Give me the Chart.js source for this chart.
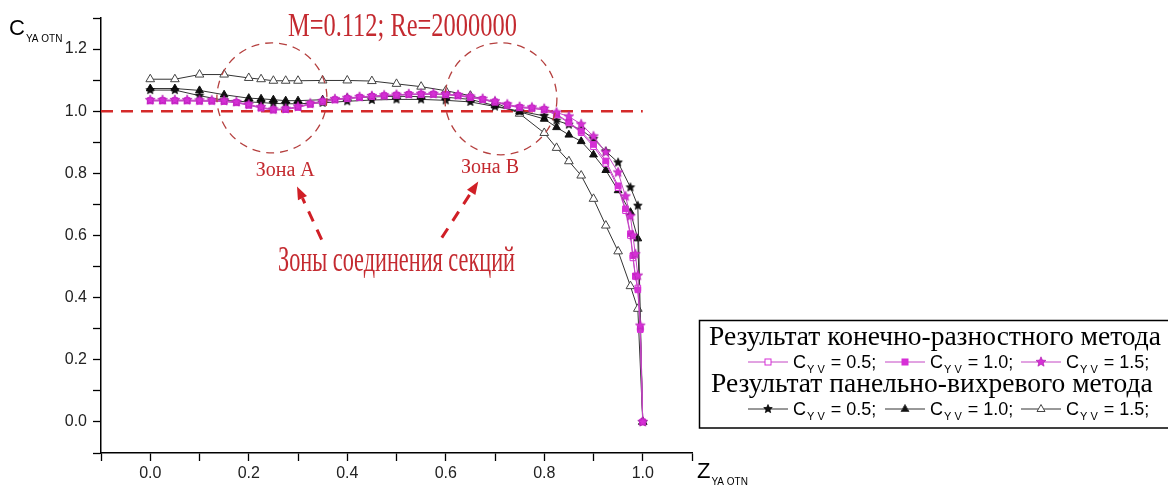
<!DOCTYPE html>
<html><head><meta charset="utf-8">
<script src="https://cdn.jsdelivr.net/npm/chart.js@4.4.0/dist/chart.umd.min.js"></script>
<style>html,body{margin:0;padding:0;background:#fff;overflow:hidden}#wrap{position:relative;width:1168px;height:495px}</style>
</head><body><div id="wrap"><canvas id="c" width="1168" height="495"></canvas></div>
<script>
// ---------- DATA ----------
const fdmZ = [0, 0.025, 0.05, 0.075, 0.1, 0.125, 0.15, 0.175, 0.2, 0.225, 0.25, 0.275, 0.3, 0.325, 0.35, 0.375, 0.4, 0.425, 0.45, 0.475, 0.5, 0.525, 0.55, 0.575, 0.6, 0.625, 0.65, 0.675, 0.7, 0.725, 0.75, 0.775, 0.8, 0.825, 0.85, 0.875, 0.9, 0.925, 0.95, 0.965, 0.975, 0.98, 0.985, 0.99, 0.995, 1.0];
const fdmCyv05 = [1.033,1.033,1.033,1.033,1.032,1.032,1.031,1.027,1.019,1.010,1.004,1.005,1.012,1.022,1.030,1.036,1.040,1.044,1.047,1.049,1.051,1.053,1.054,1.054,1.053,1.049,1.044,1.037,1.029,1.019,1.011,1.009,1.004,0.988,0.962,0.931,0.886,0.832,0.754,0.680,0.600,0.528,0.468,0.431,0.297,0.0];
const fdmCyv10 = [1.034,1.034,1.034,1.034,1.033,1.033,1.032,1.028,1.020,1.011,1.004,1.006,1.013,1.023,1.031,1.037,1.041,1.045,1.048,1.050,1.052,1.054,1.055,1.055,1.054,1.050,1.045,1.038,1.030,1.020,1.012,1.010,1.005,0.990,0.965,0.935,0.893,0.840,0.760,0.686,0.606,0.535,0.470,0.425,0.300,0.0];
const fdmCyv15 = [1.036,1.036,1.036,1.036,1.035,1.035,1.034,1.030,1.022,1.013,1.006,1.008,1.015,1.025,1.033,1.039,1.043,1.046,1.049,1.051,1.053,1.055,1.056,1.056,1.055,1.052,1.047,1.040,1.032,1.022,1.014,1.012,1.008,0.996,0.983,0.958,0.919,0.868,0.803,0.726,0.662,0.600,0.540,0.471,0.310,0.0];

const pvZ = [0, 0.05, 0.1, 0.15, 0.2, 0.225, 0.25, 0.275, 0.3, 0.35, 0.4, 0.45, 0.5, 0.55, 0.6, 0.65, 0.7, 0.75, 0.8, 0.825, 0.85, 0.875, 0.9, 0.925, 0.95, 0.975, 0.99, 1.0];
const pvCyv05 = [1.068,1.068,1.050,1.035,1.030,1.028,1.025,1.024,1.024,1.027,1.032,1.036,1.038,1.038,1.035,1.030,1.015,1.000,0.985,0.970,0.957,0.940,0.911,0.871,0.835,0.755,0.696,0.0];
const pvCyv10 = [1.073,1.073,1.067,1.053,1.042,1.040,1.037,1.034,1.034,1.037,1.042,1.046,1.048,1.047,1.045,1.038,1.018,0.998,0.975,0.948,0.924,0.903,0.860,0.810,0.745,0.675,0.590,0.0];
const pvCyv15 = [1.103,1.103,1.118,1.118,1.107,1.103,1.098,1.098,1.098,1.099,1.099,1.097,1.088,1.079,1.066,1.050,1.028,0.992,0.930,0.882,0.839,0.793,0.718,0.632,0.549,0.437,0.364,0.0];

const refZ = [-0.1, 1.0];
const refC = [1.0, 1.0];

const xTickLabels = ['0.0','0.2','0.4','0.6','0.8','1.0'];
const yTickLabels = ['0.0','0.2','0.4','0.6','0.8','1.0','1.2'];

const titleText = 'M=0.112; Re=2000000';
const zoneLabels = ['Зона А', 'Зона В'];
const jointText = 'Зоны соединения секций';
const legendHeaders = ['Результат конечно-разностного метода', 'Результат панельно-вихревого метода'];
const legendValues = ['0.5', '1.0', '1.5'];

// ---------- STYLE ----------
const MAG = '#d62fd6', MAGLINE = '#c446c4', RED = '#d42a2a', DRED = '#c42a30';
const SANS = '"Liberation Sans", Arial, sans-serif';
const SERIF = '"Liberation Serif", "Times New Roman", serif';

function starCanvas(r, fill, stroke) {
  const s = Math.ceil(r * 2 + 3);
  const c = document.createElement('canvas'); c.width = s; c.height = s;
  const g = c.getContext('2d');
  g.beginPath();
  for (let i = 0; i < 10; i++) {
    const a = -Math.PI / 2 + i * Math.PI / 5;
    const rr = i % 2 ? r * 0.45 : r;
    g.lineTo(s / 2 + rr * Math.cos(a), s / 2 + rr * Math.sin(a));
  }
  g.closePath(); g.fillStyle = fill; g.fill();
  if (stroke) { g.strokeStyle = stroke; g.lineWidth = 0.7; g.stroke(); }
  return c;
}
const magStar = starCanvas(5.2, MAG, '#b020b0');
const blkStar = starCanvas(4.5, '#111', '#000');

const pts = (xs, ys) => xs.map((v, i) => ({ x: v, y: ys[i] }));
const base = { showLine: true, borderWidth: 1, tension: 0 };

const datasets = [
  { ...base, label: 'fdm15', data: pts(fdmZ, fdmCyv15), borderColor: MAGLINE, pointStyle: magStar, pointRadius: 5 },
  { ...base, label: 'fdm10', data: pts(fdmZ, fdmCyv10), borderColor: MAGLINE, pointStyle: 'rect', pointRadius: 4, backgroundColor: MAG, pointBorderColor: MAG, pointBorderWidth: 1 },
  { ...base, label: 'fdm05', data: pts(fdmZ, fdmCyv05), borderColor: MAGLINE, pointStyle: 'rect', pointRadius: 4, backgroundColor: '#fff', pointBorderColor: MAG, pointBorderWidth: 1 },
  { ...base, label: 'pv05', data: pts(pvZ, pvCyv05), borderColor: '#333', pointStyle: blkStar, pointRadius: 5 },
  { ...base, label: 'pv10', data: pts(pvZ, pvCyv10), borderColor: '#333', pointStyle: 'triangle', pointRadius: 4.5, backgroundColor: '#111', pointBorderColor: '#111', pointBorderWidth: 1 },
  { ...base, label: 'pv15', data: pts(pvZ, pvCyv15), borderColor: '#333', pointStyle: 'triangle', pointRadius: 5, backgroundColor: '#fff', pointBorderColor: '#444', pointBorderWidth: 1 },
  { ...base, label: 'ref', data: pts(refZ, refC), borderColor: RED, borderWidth: 2.5, borderDash: [12, 8], pointRadius: 0 }
];

function fmt(v) { if (Math.abs(v) < 1e-9) v = 0; return v.toFixed(1); }

function fitText(ctx, text, cx, by, font, targetW) {
  ctx.font = font;
  const w = ctx.measureText(text).width;
  const s = targetW ? targetW / w : 1;
  ctx.save(); ctx.translate(cx, by); ctx.scale(s, 1);
  ctx.textAlign = 'center'; ctx.textBaseline = 'alphabetic';
  ctx.fillText(text, 0, 0); ctx.restore();
}

function arrow(ctx, x0, y0, x1, y1) {
  const ang = Math.atan2(y1 - y0, x1 - x0);
  const head = 13, hw = 5;
  const bx = x1 - head * Math.cos(ang), by = y1 - head * Math.sin(ang);
  ctx.save();
  ctx.lineWidth = 3; ctx.setLineDash([11, 9]); ctx.lineCap = 'butt';
  ctx.beginPath(); ctx.moveTo(x0, y0); ctx.lineTo(bx, by); ctx.stroke();
  ctx.setLineDash([]);
  ctx.beginPath();
  ctx.moveTo(x1, y1);
  ctx.lineTo(bx + hw * Math.sin(ang), by - hw * Math.cos(ang));
  ctx.lineTo(bx - hw * Math.sin(ang), by + hw * Math.cos(ang));
  ctx.closePath(); ctx.fill();
  ctx.restore();
}

function drawSub(ctx, x, by, main, sub, mainFont, subFont, subDrop) {
  ctx.font = mainFont; ctx.fillText(main, x, by);
  const w = ctx.measureText(main).width;
  ctx.font = subFont; ctx.fillText(sub, x + w + 1, by + subDrop);
  return x + w + 1 + ctx.measureText(sub).width;
}

function marker(ctx, kind, x, y) {
  ctx.save();
  if (kind === 'osq' || kind === 'fsq') {
    ctx.fillStyle = kind === 'osq' ? '#fff' : MAG; ctx.strokeStyle = MAG; ctx.lineWidth = 1;
    ctx.fillRect(x - 3, y - 3, 6, 6); ctx.strokeRect(x - 3, y - 3, 6, 6);
  } else if (kind === 'mstar') {
    ctx.drawImage(magStar, x - magStar.width / 2, y - magStar.height / 2);
  } else if (kind === 'bstar') {
    ctx.drawImage(blkStar, x - blkStar.width / 2, y - blkStar.height / 2);
  } else {
    ctx.beginPath(); ctx.moveTo(x, y - 4.5); ctx.lineTo(x + 4, y + 2.5); ctx.lineTo(x - 4, y + 2.5); ctx.closePath();
    ctx.fillStyle = kind === 'ftri' ? '#111' : '#fff'; ctx.strokeStyle = '#444'; ctx.lineWidth = 1;
    ctx.fill(); ctx.stroke();
  }
  ctx.restore();
}

const annot = {
  id: 'annot',
  afterDatasetsDraw(chart) {
    const { ctx, scales: { x, y } } = chart;
    const px = v => x.getPixelForValue(v), py = v => y.getPixelForValue(v);
    ctx.save();
    // zone circles
    ctx.strokeStyle = '#b5403f'; ctx.lineWidth = 1.3; ctx.setLineDash([8, 6]);
    [[0.247, 1.043, 55], [0.712, 1.040, 56]].forEach(c => {
      ctx.beginPath(); ctx.arc(px(c[0]), py(c[1]), c[2], 0, Math.PI * 2); ctx.stroke();
    });
    ctx.setLineDash([]);
    ctx.fillStyle = DRED; ctx.strokeStyle = DRED;
    fitText(ctx, titleText, px(0.512), py(1.243), '33px ' + SERIF, 229);
    fitText(ctx, zoneLabels[0], px(0.274), py(0.790), '20px ' + SERIF);
    fitText(ctx, zoneLabels[1], px(0.690), py(0.802), '20px ' + SERIF);
    fitText(ctx, jointText, px(0.50), py(0.485), '36px ' + SERIF, 237);
    ctx.fillStyle = '#d01f26'; ctx.strokeStyle = '#d01f26';
    arrow(ctx, px(0.348), py(0.587), px(0.298), py(0.758));
    arrow(ctx, px(0.592), py(0.593), px(0.666), py(0.774));

    // axis titles
    ctx.fillStyle = '#000'; ctx.textAlign = 'left'; ctx.textBaseline = 'alphabetic';
    drawSub(ctx, 9, 35, 'C', 'YA OTN', '22px ' + SANS, '10px ' + SANS, 7);
    drawSub(ctx, 697, 478, 'Z', 'YA OTN', '22px ' + SANS, '10px ' + SANS, 7);

    // legend
    ctx.strokeStyle = '#000'; ctx.lineWidth = 1.5;
    ctx.strokeRect(699.5, 320.5, 480, 107.5);
    ctx.fillStyle = '#000';
    ctx.font = '27.5px ' + SERIF;
    ctx.fillText(legendHeaders[0], 709, 345);
    ctx.fillText(legendHeaders[1], 711, 392);
    const rows = [
      { y: 362, color: MAGLINE, kinds: ['osq', 'fsq', 'mstar'] },
      { y: 409, color: '#333', kinds: ['bstar', 'ftri', 'otri'] }
    ];
    const starts = [748, 885, 1021];
    rows.forEach(r => {
      starts.forEach((sx, i) => {
        ctx.strokeStyle = r.color; ctx.lineWidth = 1;
        ctx.beginPath(); ctx.moveTo(sx, r.y); ctx.lineTo(sx + 40, r.y); ctx.stroke();
        marker(ctx, r.kinds[i], sx + 20, r.y);
        ctx.fillStyle = '#000';
        const e = drawSub(ctx, sx + 45, r.y + 6, 'C', 'Y V', '18px ' + SANS, '11px ' + SANS, 5);
        ctx.font = '18px ' + SANS;
        ctx.fillText(' = ' + legendValues[i] + ';', e + 1, r.y + 6);
      });
    });
    ctx.restore();
  }
};

const tickFont = { family: SANS, size: 16 };
new Chart(document.getElementById('c'), {
  type: 'scatter',
  data: { datasets },
  options: {
    responsive: false, animation: false, devicePixelRatio: 1, events: [],
    layout: { padding: { top: 18, right: 476, left: 0, bottom: 0 } },
    plugins: { legend: { display: false }, tooltip: { enabled: false } },
    scales: {
      x: {
        type: 'linear', min: -0.1, max: 1.1,
        afterFit: s => { s.height = 42; },
        border: { display: true, color: '#000', width: 1.5 },
        grid: { drawOnChartArea: false, drawTicks: true, tickLength: 8, color: '#000', tickWidth: 1.3 },
        ticks: { stepSize: 0.1, autoSkip: false, maxRotation: 0, color: '#222', font: tickFont, padding: 3,
          callback: v => xTickLabels.includes(fmt(v)) ? fmt(v) : '' }
      },
      y: {
        type: 'linear', min: -0.1, max: 1.3,
        afterFit: s => { s.width = 101; },
        border: { display: true, color: '#000', width: 1.5 },
        grid: { drawOnChartArea: false, drawTicks: true, tickLength: 8, color: '#000', tickWidth: 1.3 },
        ticks: { stepSize: 0.1, autoSkip: false, color: '#222', font: tickFont, padding: 6,
          callback: v => yTickLabels.includes(fmt(v)) ? fmt(v) : '' }
      }
    }
  },
  plugins: [annot]
});
</script></body></html>
